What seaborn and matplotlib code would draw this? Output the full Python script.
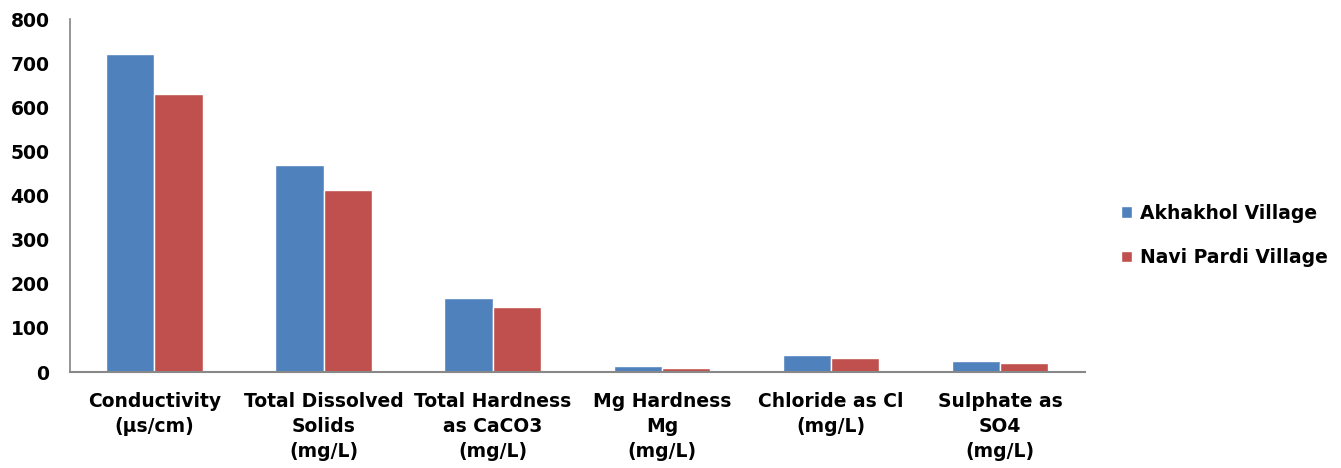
import matplotlib
matplotlib.use("Agg")
import matplotlib.pyplot as plt
import seaborn as sns
import pandas as pd

categories = ["Conductivity\n(µs/cm)", "Total Dissolved\nSolids\n(mg/L)", "Total Hardness\nas CaCO3\n(mg/L)",
              "Mg Hardness\nMg\n(mg/L)", "Chloride as Cl\n(mg/L)", "Sulphate as\nSO4\n(mg/L)"]
series_names = ["Akhakhol Village", "Navi Pardi Village"]
akhakhol = [720, 470, 169, 14, 38, 25]
navi_pardi = [630, 412, 148, 10, 32, 21]
yticks = [0, 100, 200, 300, 400, 500, 600, 700, 800]

df = pd.DataFrame({
    "cat": categories * 2,
    "series": [series_names[0]] * len(categories) + [series_names[1]] * len(categories),
    "value": akhakhol + navi_pardi,
})

sns.set_theme(style="white")
plt.rcParams["font.family"] = ["DejaVu Sans"]
plt.rcParams["font.weight"] = "bold"
plt.rcParams["text.color"] = "black"
plt.rcParams["xtick.color"] = "black"
plt.rcParams["ytick.color"] = "black"

fig = plt.figure(figsize=(13.41, 4.68), dpi=100)
ax = fig.add_axes([0.052, 0.205, 0.757, 0.754])
sns.barplot(data=df, x="cat", y="value", hue="series", order=categories, hue_order=series_names,
            palette=["#4F81BD", "#C0504D"], width=0.57, saturation=1, ax=ax, errorbar=None)

fs = 13.5
ax.set_ylim(0, 800)
ax.set_xlim(-0.5, len(categories) - 0.5)
ax.set_yticks(yticks)
ax.set_yticklabels([str(v) for v in yticks], fontsize=fs, fontweight="bold", color="black")
ax.set_xticks(range(len(categories)))
ax.set_xticklabels(categories, fontsize=fs, fontweight="bold", linespacing=1.4, va="top", color="black")
ax.tick_params(axis="both", length=0)
ax.tick_params(axis="y", pad=14.5)
ax.tick_params(axis="x", pad=14)
ax.set_xlabel("")
ax.set_ylabel("")
for s in ["top", "right"]:
    ax.spines[s].set_visible(False)
ax.spines["left"].set_color("#888888")
ax.spines["bottom"].set_color("#888888")
ax.spines["bottom"].set_linewidth(1.5)

handles, labels = ax.get_legend_handles_labels()
leg = ax.legend(handles, labels, loc="center left", bbox_to_anchor=(1.028, 0.387), frameon=False,
                prop={"size": fs, "weight": "bold"}, handlelength=0.6, handleheight=0.6,
                labelspacing=1.35, handletextpad=0.45, borderaxespad=0)
for t in leg.get_texts():
    t.set_color("black")

fig.savefig("out.png", dpi=100)
